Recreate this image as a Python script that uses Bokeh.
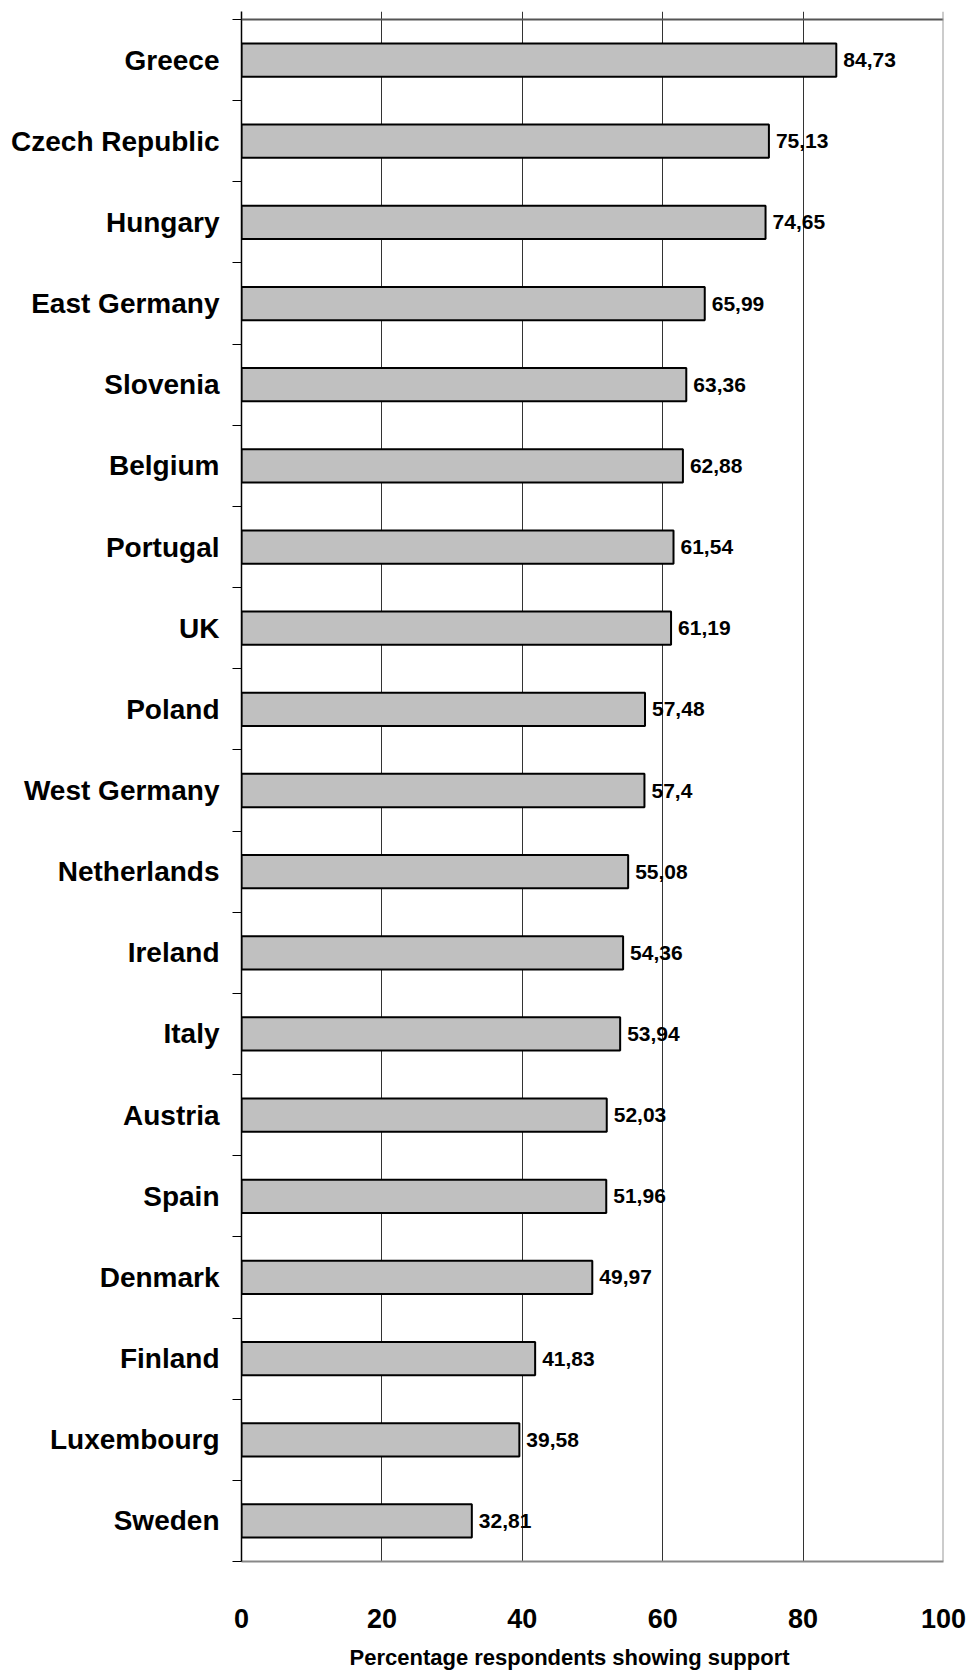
from bokeh.plotting import figure
from bokeh.models import FixedTicker, Range1d, Span, Title, ColumnDataSource
from bokeh.core.properties import value
from bokeh.embed import file_html
from bokeh.resources import INLINE

countries = ["Greece", "Czech Republic", "Hungary", "East Germany", "Slovenia", "Belgium",
             "Portugal", "UK", "Poland", "West Germany", "Netherlands", "Ireland", "Italy",
             "Austria", "Spain", "Denmark", "Finland", "Luxembourg", "Sweden"]
support = [84.73, 75.13, 74.65, 65.99, 63.36, 62.88, 61.54, 61.19, 57.48, 57.4,
           55.08, 54.36, 53.94, 52.03, 51.96, 49.97, 41.83, 39.58, 32.81]
x_ticks = [0, 20, 40, 60, 80, 100]
grid_ticks = [20, 40, 60, 80]
x_title = "Percentage respondents showing support"

FONT = "Liberation Sans"
n = len(countries)
centers = [n - i - 0.5 for i in range(n)]
labels = [str(v).replace(".", ",") for v in support]

src = ColumnDataSource(dict(y=centers, v=support, lab=labels, name=countries))

frame_h = 1550
p = figure(output_backend="svg", toolbar_location=None,
           frame_width=702, frame_height=frame_h,
           x_range=Range1d(0, 100), y_range=Range1d(0, n * frame_h / 1542.0),
           min_border_left=241, min_border_right=25, min_border_top=11,
           min_border_bottom=90)
p.outline_line_color = None
p.background_fill_color = "white"

p.hbar(y="y", left=0, right="v", height=0.41, source=src,
       fill_color="#c0c0c0", line_color="black", line_width=2)
p.text(x="v", y="y", text="lab", source=src, x_offset=7, text_baseline="middle",
       text_align="left", text_font=value(FONT), text_font_style="bold",
       text_font_size="21px", text_color="black")

# borders
p.add_layout(Span(location=n, dimension="width", line_color="#555555", line_width=2))
p.add_layout(Span(location=100, dimension="height", line_color="#999999", line_width=2))

# grid
p.ygrid.visible = False
p.xgrid.ticker = FixedTicker(ticks=grid_ticks)
p.xgrid.grid_line_color = "#333333"
p.xgrid.grid_line_width = 1

# x axis
xa = p.xaxis[0]
xa.ticker = FixedTicker(ticks=x_ticks)
xa.axis_line_color = "#888888"
xa.axis_line_width = 2
xa.major_tick_line_color = None
xa.minor_tick_line_color = None
xa.major_tick_out = 0
xa.major_tick_in = 0
xa.minor_tick_out = 0
xa.minor_tick_in = 0
xa.major_label_standoff = 47
xa.major_label_text_font = FONT
xa.major_label_text_font_style = "bold"
xa.major_label_text_font_size = "27px"
xa.major_label_text_color = "black"

# y axis
ya = p.yaxis[0]
ya.ticker = FixedTicker(ticks=centers, minor_ticks=list(range(n + 1)))
ya.major_label_overrides = {c: name for c, name in zip(centers, countries)}
ya.axis_line_color = "black"
ya.axis_line_width = 1.5
ya.major_tick_line_color = None
ya.major_tick_out = 0
ya.major_tick_in = 0
ya.minor_tick_line_color = "black"
ya.minor_tick_out = 9
ya.minor_tick_in = 0
ya.major_label_standoff = 13
ya.major_label_text_font = FONT
ya.major_label_text_font_style = "bold"
ya.major_label_text_font_size = "28px"
ya.major_label_text_color = "black"

t = Title(text=x_title, align="left", offset=108, text_font=FONT, text_font_style="bold",
          text_font_size="22px", text_color="black", standoff=24)
p.add_layout(t, "below")

open("out.html", "w").write(file_html(p, INLINE))
